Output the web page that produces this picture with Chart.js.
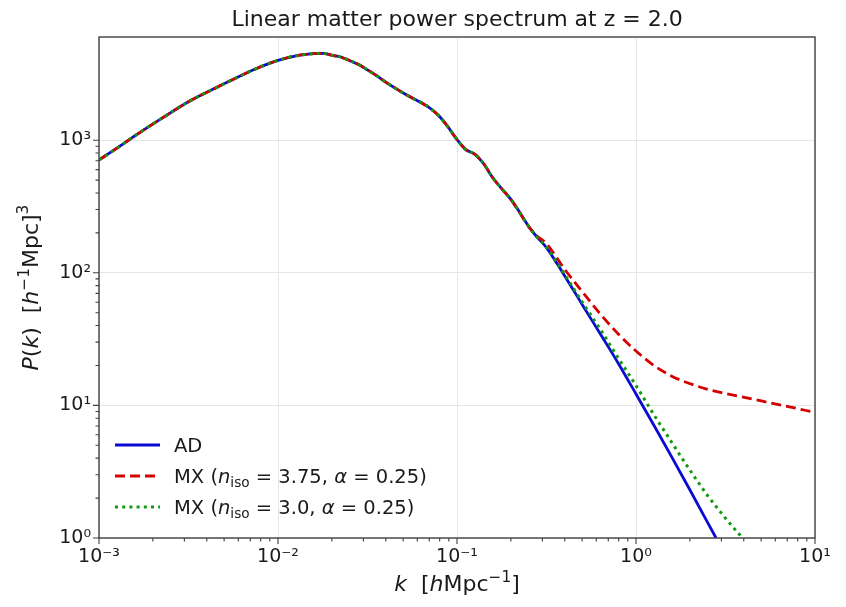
<!DOCTYPE html>
<html><head><meta charset="utf-8">
<script src="https://cdn.jsdelivr.net/npm/chart.js@4.4.0/dist/chart.umd.min.js"></script>
<style>html,body{margin:0;padding:0;background:#fff}</style>
</head><body>
<canvas id="c" width="846" height="607"></canvas>
<script>
// ---- data (k in h/Mpc, P in (Mpc/h)^3) ----
const kCommon = [0.001, 0.00126, 0.00158, 0.00224, 0.00316, 0.00447, 0.00631, 0.00794, 0.0100, 0.0126, 0.0158, 0.0178, 0.0200, 0.0224, 0.0251, 0.0282, 0.0316, 0.0355, 0.0398, 0.0447, 0.0501, 0.0562, 0.0631, 0.0708, 0.0794, 0.0891, 0.100, 0.112, 0.126, 0.141, 0.158, 0.178, 0.200, 0.224, 0.251];
const pCommon = [710, 870, 1075, 1460, 1950, 2470, 3100, 3560, 4000, 4330, 4490, 4520, 4370, 4240, 3985, 3720, 3390, 3070, 2754, 2489, 2268, 2084, 1919, 1741, 1520, 1259, 1010, 850, 782, 664, 523, 430, 358, 285, 224];

const kTailAD = [0.282, 0.316, 0.398, 0.501, 0.631, 0.794, 1.0, 1.259, 1.585, 1.995, 2.80];
const pTailAD = [184, 155, 95.5, 57.5, 34.7, 20.9, 12.2, 7.08, 4.07, 2.32, 1.0];

const kTailMX375 = [0.282, 0.316, 0.398, 0.501, 0.631, 0.794, 1.0, 1.259, 1.585, 1.778, 2.512, 3.548, 5.012, 7.079, 10.0];
const pTailMX375 = [188, 166, 107, 72, 49, 34.7, 25.7, 20.0, 16.6, 15.5, 13.2, 11.9, 10.8, 9.8, 8.84];

const kTailMX30 = [0.282, 0.316, 0.398, 0.501, 0.631, 0.794, 1.0, 1.259, 1.585, 1.995, 2.512, 3.162, 3.936];
const pTailMX30 = [184, 156, 98, 60, 37.6, 22.9, 14.1, 8.5, 5.25, 3.27, 2.09, 1.41, 1.0];

const seriesNames = ['AD', 'MX (n_iso = 3.75, α = 0.25)', 'MX (n_iso = 3.0, α = 0.25)'];
const titleText = 'Linear matter power spectrum at z = 2.0';
const xMajorTicks = [0.001, 0.01, 0.1, 1, 10];
const xTickLabels = ['10⁻³', '10⁻²', '10⁻¹', '10⁰', '10¹'];
const yMajorTicks = [1, 10, 100, 1000];
const yTickLabels = ['10⁰', '10¹', '10²', '10³'];

const FONT = "'DejaVu Sans', 'Liberation Sans', sans-serif";

function pts(ks, ps) { return ks.map((k, i) => ({x: k, y: ps[i]})); }
const dataAD = pts(kCommon.concat(kTailAD), pCommon.concat(pTailAD));
const dataMX375 = pts(kCommon.concat(kTailMX375), pCommon.concat(pTailMX375));
const dataMX30 = pts(kCommon.concat(kTailMX30), pCommon.concat(pTailMX30));

function minorList(min, max) {
  const out = [];
  for (let e = -4; e <= 2; e++) {
    for (let m = 2; m <= 9; m++) {
      const v = m * Math.pow(10, e);
      if (v > min * 1.0001 && v < max * 0.9999) out.push(v);
    }
  }
  return out;
}
function isMajorVal(v) { const l = Math.log10(v); return Math.abs(l - Math.round(l)) < 1e-6; }

const X_MIN = 0.001, X_MAX = 10, Y_MIN = 1, Y_MAX = 6000;
const xMinor = minorList(X_MIN, X_MAX);
const yMinor = minorList(Y_MIN, Y_MAX);

function drawRich(ctx, segs, x, y, align) {
  let w = 0;
  for (const s of segs) {
    ctx.font = (s.it ? 'italic ' : '') + s.size + 'px ' + FONT;
    s.w = ctx.measureText(s.t).width; w += s.w;
  }
  let cx = align === 'center' ? x - w / 2 : x;
  ctx.textAlign = 'left';
  ctx.textBaseline = 'alphabetic';
  for (const s of segs) {
    ctx.font = (s.it ? 'italic ' : '') + s.size + 'px ' + FONT;
    ctx.fillText(s.t, cx, y + (s.dy || 0));
    cx += s.w;
  }
}

const colors = ['#0a0ad2', '#d40000', '#109a10'];

const decor = {
  id: 'decor',
  afterDraw(chart) {
    const ctx = chart.ctx, a = chart.chartArea;
    const xs = chart.scales.x, ys = chart.scales.y;
    ctx.save();
    // frame
    ctx.strokeStyle = '#404040'; ctx.lineWidth = 1.4;
    ctx.strokeRect(a.left, a.top, a.right - a.left, a.bottom - a.top);
    // ticks
    ctx.lineWidth = 1.1;
    ctx.beginPath();
    for (const v of xMajorTicks) { const px = xs.getPixelForValue(v); ctx.moveTo(px, a.bottom); ctx.lineTo(px, a.bottom + 6); }
    for (const v of xMinor) { const px = xs.getPixelForValue(v); ctx.moveTo(px, a.bottom); ctx.lineTo(px, a.bottom + 3.5); }
    for (const v of yMajorTicks) { const py = ys.getPixelForValue(v); ctx.moveTo(a.left, py); ctx.lineTo(a.left - 6, py); }
    for (const v of yMinor) { const py = ys.getPixelForValue(v); ctx.moveTo(a.left, py); ctx.lineTo(a.left - 3.5, py); }
    ctx.stroke();

    ctx.fillStyle = '#1a1a1a';
    // title, centred over the plot area
    drawRich(ctx, [{t: titleText, size: 22}], (a.left + a.right) / 2, 26, 'center');
    // x axis title
    const L = 22;
    drawRich(ctx, [
      {t: 'k', size: L, it: true}, {t: '  [', size: L}, {t: 'h', size: L, it: true},
      {t: 'Mpc', size: L}, {t: '\u2212' + '1', size: L * 0.7, dy: -L * 0.4}, {t: ']', size: L}
    ], (a.left + a.right) / 2, 591, 'center');
    // y axis title
    ctx.save();
    ctx.translate(38, (a.top + a.bottom) / 2);
    ctx.rotate(-Math.PI / 2);
    drawRich(ctx, [
      {t: 'P', size: L, it: true}, {t: '(', size: L}, {t: 'k', size: L, it: true}, {t: ')  [', size: L},
      {t: 'h', size: L, it: true}, {t: '\u2212' + '1', size: L * 0.7, dy: -L * 0.4}, {t: 'Mpc]', size: L},
      {t: '3', size: L * 0.7, dy: -L * 0.45}
    ], 0, 0, 'center');
    ctx.restore();

    // legend
    const rows = [445, 476, 507];
    const dashes = [[], [10, 5], [3, 4.2]];
    const F = 19.5;
    for (let i = 0; i < 3; i++) {
      ctx.strokeStyle = colors[i]; ctx.lineWidth = 3; ctx.setLineDash(dashes[i]);
      ctx.beginPath(); ctx.moveTo(115, rows[i]); ctx.lineTo(160, rows[i]); ctx.stroke();
    }
    ctx.setLineDash([]);
    ctx.fillStyle = '#1a1a1a';
    drawRich(ctx, [{t: seriesNames[0], size: F}], 174, rows[0] + 7, 'left');
    drawRich(ctx, [
      {t: 'MX (', size: F}, {t: 'n', size: F, it: true}, {t: 'iso', size: F * 0.7, dy: F * 0.2},
      {t: ' = 3.75, ', size: F}, {t: 'α', size: F, it: true}, {t: ' = 0.25)', size: F}
    ], 174, rows[1] + 7, 'left');
    drawRich(ctx, [
      {t: 'MX (', size: F}, {t: 'n', size: F, it: true}, {t: 'iso', size: F * 0.7, dy: F * 0.2},
      {t: ' = 3.0, ', size: F}, {t: 'α', size: F, it: true}, {t: ' = 0.25)', size: F}
    ], 174, rows[2] + 7, 'left');
    ctx.restore();
  }
};

function gridColor(c) { return (c.tick && isMajorVal(c.tick.value)) ? '#e6e6e6' : 'rgba(0,0,0,0)'; }

new Chart(document.getElementById('c'), {
  type: 'line',
  data: {
    datasets: [
      {label: seriesNames[0], data: dataAD, borderColor: colors[0], borderWidth: 2.8, pointRadius: 0, cubicInterpolationMode: 'monotone', order: 2, fill: false},
      {label: seriesNames[1], data: dataMX375, borderColor: colors[1], borderWidth: 2.8, borderDash: [10, 5], pointRadius: 0, cubicInterpolationMode: 'monotone', order: 1, fill: false},
      {label: seriesNames[2], data: dataMX30, borderColor: colors[2], borderWidth: 3, borderDash: [3, 4.2], pointRadius: 0, cubicInterpolationMode: 'monotone', order: 0, fill: false}
    ]
  },
  options: {
    responsive: false, animation: false, devicePixelRatio: 1,
    layout: {padding: {left: 0, right: 31, top: 37, bottom: 0}},
    plugins: {
      legend: {display: false}, tooltip: {enabled: false}, title: {display: false}
    },
    scales: {
      x: {
        type: 'logarithmic', min: X_MIN, max: X_MAX,
        afterBuildTicks(s) { s.ticks = xMajorTicks.concat(xMinor).sort((p, q) => p - q).map(v => ({value: v, major: false})); },
        afterFit(s) { s.height = 69; },
        ticks: {autoSkip: false, maxRotation: 0, minRotation: 0, padding: 8, color: '#1a1a1a',
          font: {family: FONT, size: 19},
          callback(v) { const i = xMajorTicks.findIndex(m => Math.abs(m - v) / m < 1e-6); return i >= 0 ? xTickLabels[i] : ''; }},
        grid: {color: gridColor, drawTicks: false, lineWidth: 1},
        border: {display: false}
      },
      y: {
        type: 'logarithmic', min: Y_MIN, max: Y_MAX,
        afterBuildTicks(s) { s.ticks = yMajorTicks.concat(yMinor).sort((p, q) => p - q).map(v => ({value: v, major: false})); },
        afterFit(s) { s.width = 99; },
        ticks: {autoSkip: false, padding: 8, color: '#1a1a1a', font: {family: FONT, size: 19},
          callback(v) { const i = yMajorTicks.findIndex(m => Math.abs(m - v) / m < 1e-6); return i >= 0 ? yTickLabels[i] : ''; }},
        grid: {color: gridColor, drawTicks: false, lineWidth: 1},
        border: {display: false}
      }
    }
  },
  plugins: [decor]
});
</script>
</body></html>
